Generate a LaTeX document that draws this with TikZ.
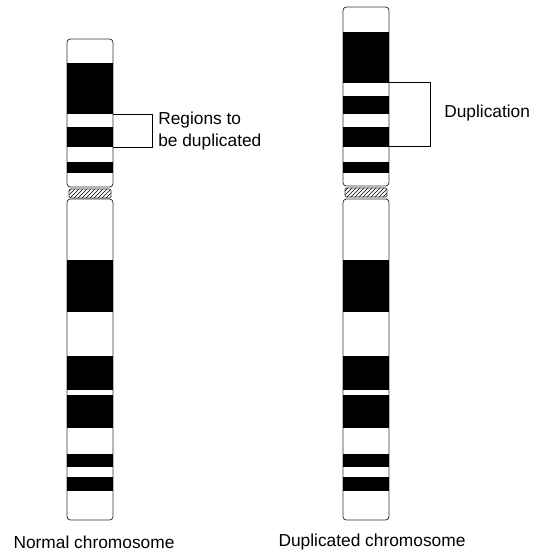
\documentclass[tikz,border=0pt]{standalone}
\usepackage{fontspec}
\setmainfont{Liberation Sans}
\usetikzlibrary{patterns,positioning}
\tikzstyle{arm} = [draw=black!80, line width=0.6pt, fill=white, rounded corners=2.5pt]
\tikzstyle{band} = [fill=black]
\tikzstyle{centro} = [draw=black!80, line width=0.5pt, pattern=north east lines, rounded corners=1pt]
\tikzstyle{bracket} = [draw, line width=0.7pt]
\tikzstyle{label} = [font=\fontsize{13}{17}\selectfont, inner sep=0pt, align=left]

\begin{document}
\begin{tikzpicture}[x=0.75pt, y=-0.75pt]
    \useasboundingbox (0,0) rectangle (543,552);
    % Normal chromosome
    \draw [arm] (67,39) rectangle (113,187);
    \foreach \a/\b in {63/114,127/147,162/173}
        \fill [band] (67.3,\a) rectangle (112.7,\b);
    \draw [centro] (69,189) rectangle (111,198);
    \draw [arm] (67,199) rectangle (113,520);
    \foreach \a/\b in {260/312,356/390,395/428,454/467,477/491}
        \fill [band] (67.3,\a) rectangle (112.7,\b);
    % Duplicated chromosome
    \draw [arm] (343,7) rectangle (389,186);
    \foreach \a/\b in {32/83,96/114,127/147,162/173}
        \fill [band] (343.3,\a) rectangle (388.7,\b);
    \draw [centro] (345,188) rectangle (387,197);
    \draw [arm] (343,199) rectangle (389,520);
    \foreach \a/\b in {260/312,356/390,395/428,454/467,477/491}
        \fill [band] (343.3,\a) rectangle (388.7,\b);
    % Place nodes
    \coordinate (regtop) at (113,114);
    \coordinate (regbot) at (113,147);
    \coordinate (duptop) at (389,82);
    \coordinate (dupbot) at (389,146);
    \node [label, anchor=west] (regions) at (158,131) {Regions to\\be duplicated};
    \node [label, anchor=west] (dup) at (444,113) {Duplication};
    \node [label] (normal) at (94,542) {Normal chromosome};
    \node [label] (dupchr) at (372,542) {Duplicated chromosome};
    % Draw brackets
    \path [bracket] (regtop) -| ([xshift=-4]regions.west |- regtop) |- (regbot);
    \path [bracket] (duptop) -- ++(41,0) |- (dupbot);
\end{tikzpicture}
\end{document}
